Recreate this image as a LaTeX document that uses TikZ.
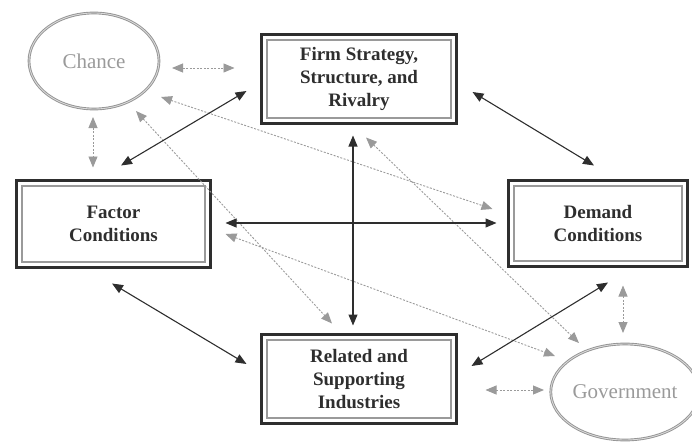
\documentclass[tikz,border=0pt]{standalone}
\usepackage{fontspec}
\setmainfont{Liberation Serif}
\usetikzlibrary{arrows.meta,shapes.geometric,calc}
\definecolor{dk}{HTML}{2E2E2E}
\definecolor{lg}{HTML}{9A9A9A}
\tikzset{
  fbox/.style={draw=dk, line width=3pt, rectangle, align=center,
    font=\fontsize{19}{23}\selectfont\bfseries, text=dk, inner sep=0pt,
    path picture={\draw[lg, line width=1.8pt]
      ([shift={(5.5pt,5.5pt)}]path picture bounding box.south west) rectangle
      ([shift={(-5.5pt,-5.5pt)}]path picture bounding box.north east);}},
  fell/.style={ellipse, draw=gray!85, line width=0.9pt, double=gray!30,
    double distance=0.9pt, text=lg, font=\fontsize{21}{24}\selectfont,
    minimum width=130pt, minimum height=96pt, inner sep=0pt},
  solidarr/.style={dk, line width=1.1pt, {Triangle[length=11pt,width=9pt]}-{Triangle[length=11pt,width=9pt]}},
  dotarr/.style={lg, line width=0.9pt, dash pattern=on 2pt off 1.5pt,
    {Triangle[length=11pt,width=9pt]}-{Triangle[length=11pt,width=9pt]}}
}
\begin{document}
\begin{tikzpicture}[x=1pt,y=-1pt]
\useasboundingbox (0,0) rectangle (692,441);
\node[fbox, minimum width=195pt, minimum height=89pt] (firm) at (359,79)
  {Firm Strategy,\\Structure, and\\Rivalry};
\node[fbox, minimum width=194pt, minimum height=87pt] (factor) at (113.5,224)
  {Factor\\Conditions};
\node[fbox, minimum width=179pt, minimum height=86pt] (demand) at (598,223.5)
  {Demand\\Conditions};
\node[fbox, minimum width=195pt, minimum height=89pt] (related) at (359,379)
  {Related and\\Supporting\\Industries};
\node[fell] (chance) at (94,61) {Chance};
\node[fell] (gov) at (625,392) {Government};
% solid connector ends
\coordinate (s1a) at ([shift={(7.5,-13.5)}]factor.north);
\coordinate (s1b) at ([shift={(-13.5,12)}]firm.west);
\coordinate (s2a) at ([shift={(14.5,13)}]firm.east);
\coordinate (s2b) at ([shift={(-4,-13.5)}]demand.north);
\coordinate (s3a) at ([shift={(13.5,-1)}]factor.east);
\coordinate (s3b) at ([shift={(-10.5,-0.5)}]demand.west);
\coordinate (s4a) at ([shift={(-6,10.5)}]firm.south);
\coordinate (s4b) at ([shift={(-6,-7.5)}]related.north);
\coordinate (s5a) at ([shift={(-1.5,14.5)}]factor.south);
\coordinate (s5b) at ([shift={(-13.5,-15)}]related.west);
\coordinate (s6a) at ([shift={(10,14.5)}]demand.south);
\coordinate (s6b) at ([shift={(13.5,-13)}]related.east);
% dotted connector ends
\coordinate (d1a) at ([shift={(78,7)}]chance.center);
\coordinate (d1b) at ([shift={(-25.5,-11)}]firm.west);
\coordinate (d2a) at ([shift={(-1,56)}]chance.center);
\coordinate (d2b) at ([shift={(-20.5,-11.5)}]factor.north);
\coordinate (d3a) at ([shift={(67,36)}]chance.center);
\coordinate (d3b) at ([shift={(-14.5,-14.5)}]demand.west);
\coordinate (d4a) at ([shift={(42,50)}]chance.center);
\coordinate (d4b) at ([shift={(-27,-9.5)}]related.north);
\coordinate (d5a) at ([shift={(7,12.5)}]firm.south);
\coordinate (d5b) at ([shift={(-46,-49)}]gov.center);
\coordinate (d6a) at ([shift={(13.5,10)}]factor.east);
\coordinate (d6b) at ([shift={(-70,-36)}]gov.center);
\coordinate (d7a) at ([shift={(25,17.5)}]demand.south);
\coordinate (d7b) at ([shift={(-2,-59)}]gov.center);
\coordinate (d8a) at ([shift={(27.5,11)}]related.east);
\coordinate (d8b) at ([shift={(-81,-2)}]gov.center);
% dotted arrows
\draw[dotarr] (d1a) -- (d1b);
\draw[dotarr] (d2a) -- (d2b);
\draw[dotarr] (d3a) -- (d3b);
\draw[dotarr] (d4a) -- (d4b);
\draw[dotarr] (d5a) -- (d5b);
\draw[dotarr] (d6a) -- (d6b);
\draw[dotarr] (d7a) -- (d7b);
\draw[dotarr] (d8a) -- (d8b);
% solid arrows
\draw[solidarr] (s1a) -- (s1b);
\draw[solidarr] (s2a) -- (s2b);
\draw[solidarr] (s3a) -- (s3b);
\draw[solidarr] (s4a) -- (s4b);
\draw[solidarr] (s5a) -- (s5b);
\draw[solidarr] (s6a) -- (s6b);
\end{tikzpicture}
\end{document}
